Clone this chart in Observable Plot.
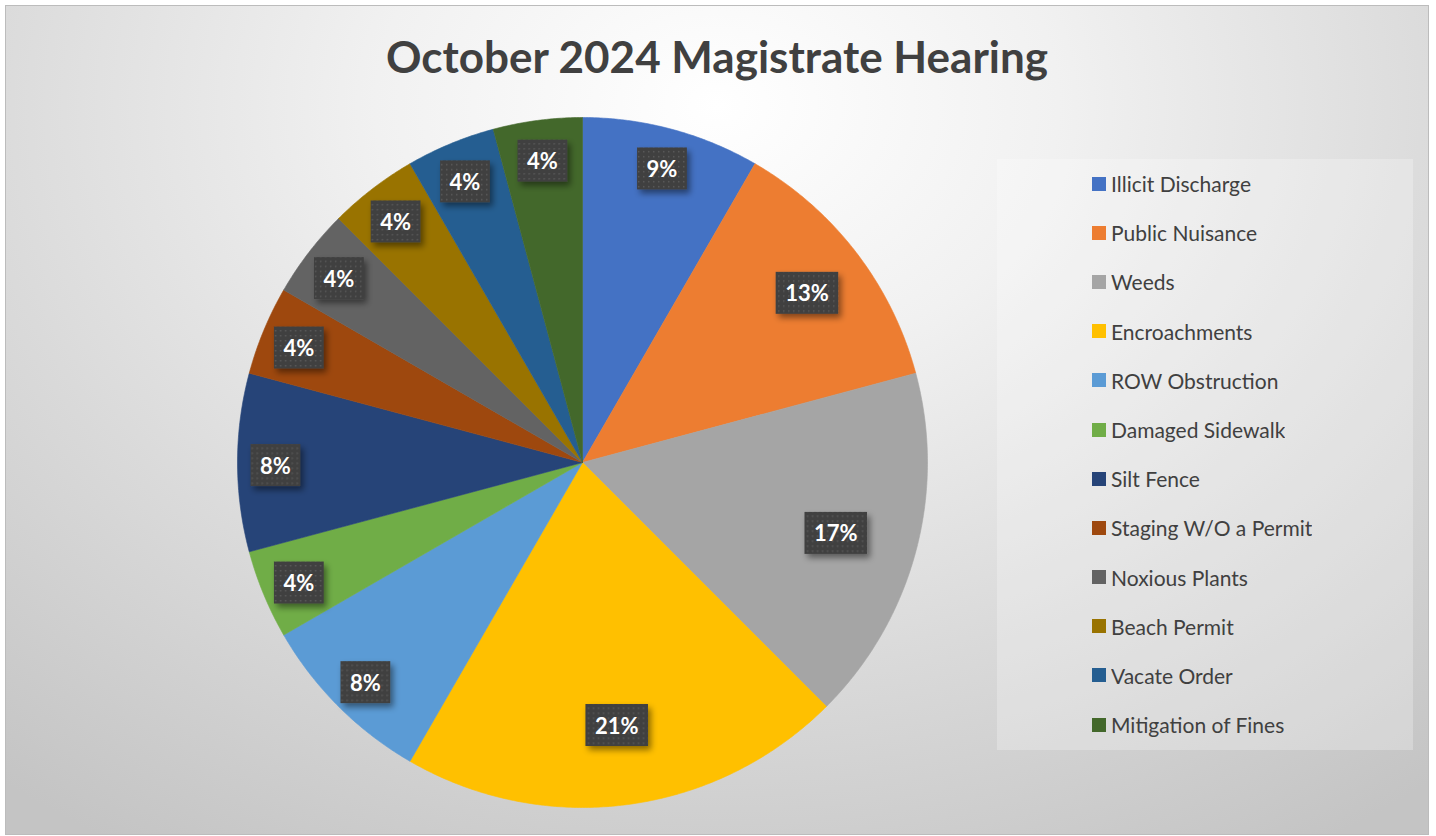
<!DOCTYPE html>
<html><head><meta charset="utf-8">
<script src="https://cdn.jsdelivr.net/npm/d3@7"></script>
<script src="https://cdn.jsdelivr.net/npm/@observablehq/plot@0.6"></script>
<style>
html,body{margin:0;padding:0;background:#fff;}
#frame{position:absolute;left:5px;top:5px;width:1424px;height:830px;box-sizing:border-box;border:1px solid #bcbcbc;
  background:radial-gradient(ellipse 80% 105% at 50% 12%, #ffffff 0%, #f1f1f1 30%, #dadada 65%, #c4c4c4 100%);
  overflow:hidden;font-family:Lato,"Open Sans",sans-serif;}
#title{position:absolute;left:0;top:22px;width:100%;height:56px;line-height:56px;text-align:center;font-weight:700;font-size:44px;color:#404040;}
#chart{position:absolute;left:0;top:95px;}
#legendbox{position:absolute;left:991px;top:153px;width:416px;height:591px;background:rgba(255,255,255,0.25);}
#legendbox > div{font-family:Lato,"Open Sans",sans-serif !important;font-size:21px !important;color:#404040 !important;margin:0 !important;padding:0 0 0 95px !important;}
#legendbox > div > div{height:49.2px !important;display:flex !important;align-items:center !important;padding:0 !important;margin:0 !important;}
#legendbox svg{margin-right:5px !important;}
</style>
</head><body>
<div id="frame">
  <div id="title">October 2024 Magistrate Hearing</div>
  <div id="chart"></div>
  <div id="legendbox"></div>
</div>
<script>
const categories = ["Illicit Discharge","Public Nuisance","Weeds","Encroachments","ROW Obstruction","Damaged Sidewalk","Silt Fence","Staging W/O a Permit","Noxious Plants","Beach Permit","Vacate Order","Mitigation of Fines"];
const counts = [2,3,4,5,2,1,2,1,1,1,1,1];
const percentLabels = ["9%","13%","17%","21%","8%","4%","8%","4%","4%","4%","4%","4%"];
const colors = ["#4472C4","#ED7D31","#A5A5A5","#FFC000","#5B9BD5","#70AD47","#264478","#9E480E","#636363","#997300","#255E91","#43682B"];

const rows = categories.map((name, i) => ({name, count: counts[i], label: percentLabels[i]}));
const arcs = d3.pie().sort(null).value(d => d.count)(rows);

// polygon outline points for each slice (unit circle, angle 0 at top, clockwise)
const slicePts = [];
arcs.forEach(a => {
  const name = a.data.name;
  slicePts.push({name, x: 0, y: 0});
  const n = Math.max(8, Math.ceil((a.endAngle - a.startAngle) / (Math.PI / 360)));
  for (let k = 0; k <= n; k++) {
    const t = a.startAngle + (a.endAngle - a.startAngle) * k / n;
    slicePts.push({name, x: Math.sin(t), y: Math.cos(t)});
  }
  slicePts.push({name, x: 0, y: 0});
});

const labelPts = arcs.map(a => {
  const m = (a.startAngle + a.endAngle) / 2;
  const c = a.data.count;
  const f = c >= 4 ? 0.76 : c === 3 ? 0.82 : 0.89;
  return {name: a.data.name, label: a.data.label, x: f * Math.sin(m), y: f * Math.cos(m)};
});

const colorScale = {type: "ordinal", domain: categories, range: colors};

const svg = Plot.plot({
  width: 1422, height: 733,
  marginLeft: 231, marginRight: 501, marginTop: 16, marginBottom: 27,
  x: {domain: [-1, 1], axis: null},
  y: {domain: [-1, 1], axis: null},
  color: colorScale,
  style: {background: "transparent", overflow: "visible"},
  marks: [
    Plot.line(slicePts, {x: "x", y: "y", z: "name", fill: "name", stroke: "name", strokeWidth: 0.6, curve: "linear"}),
    Plot.text(labelPts, {x: "x", y: "y", dy: 4, text: "label", fill: "white", fontWeight: "bold", fontSize: 22, fontFamily: "Lato, 'Open Sans', sans-serif"})
  ]
});
document.getElementById("chart").appendChild(svg);

// label boxes (dotted dark fill with drop shadow) behind each text
const ns = "http://www.w3.org/2000/svg";
const defs = document.createElementNS(ns, "defs");
defs.innerHTML = `
<pattern id="dots" width="5" height="5" patternUnits="userSpaceOnUse">
  <rect width="5" height="5" fill="#404040"/>
  <rect x="1" y="1" width="1.5" height="1.5" fill="#595959"/>
</pattern>
<filter id="shadow" x="-30%" y="-30%" width="170%" height="180%">
  <feDropShadow dx="3" dy="4" stdDeviation="3" flood-color="#000" flood-opacity="0.45"/>
</filter>`;
svg.insertBefore(defs, svg.firstChild);
svg.querySelectorAll('g[aria-label="text"] text').forEach(t => {
  const b = t.getBBox();
  const r = document.createElementNS(ns, "rect");
  const cy = b.y + b.height / 2;
  r.setAttribute("x", b.x - 9.5);
  r.setAttribute("y", cy - 21);
  r.setAttribute("width", b.width + 19);
  r.setAttribute("height", 42);
  r.setAttribute("fill", "url(#dots)");
  r.setAttribute("filter", "url(#shadow)");
  if (t.getAttribute("transform")) r.setAttribute("transform", t.getAttribute("transform"));
  t.parentNode.insertBefore(r, t);
});

const legend = Plot.legend({color: colorScale, legend: "swatches", columns: 1, swatchSize: 14, className: "lg"});
document.getElementById("legendbox").appendChild(legend);
</script>
</body></html>
